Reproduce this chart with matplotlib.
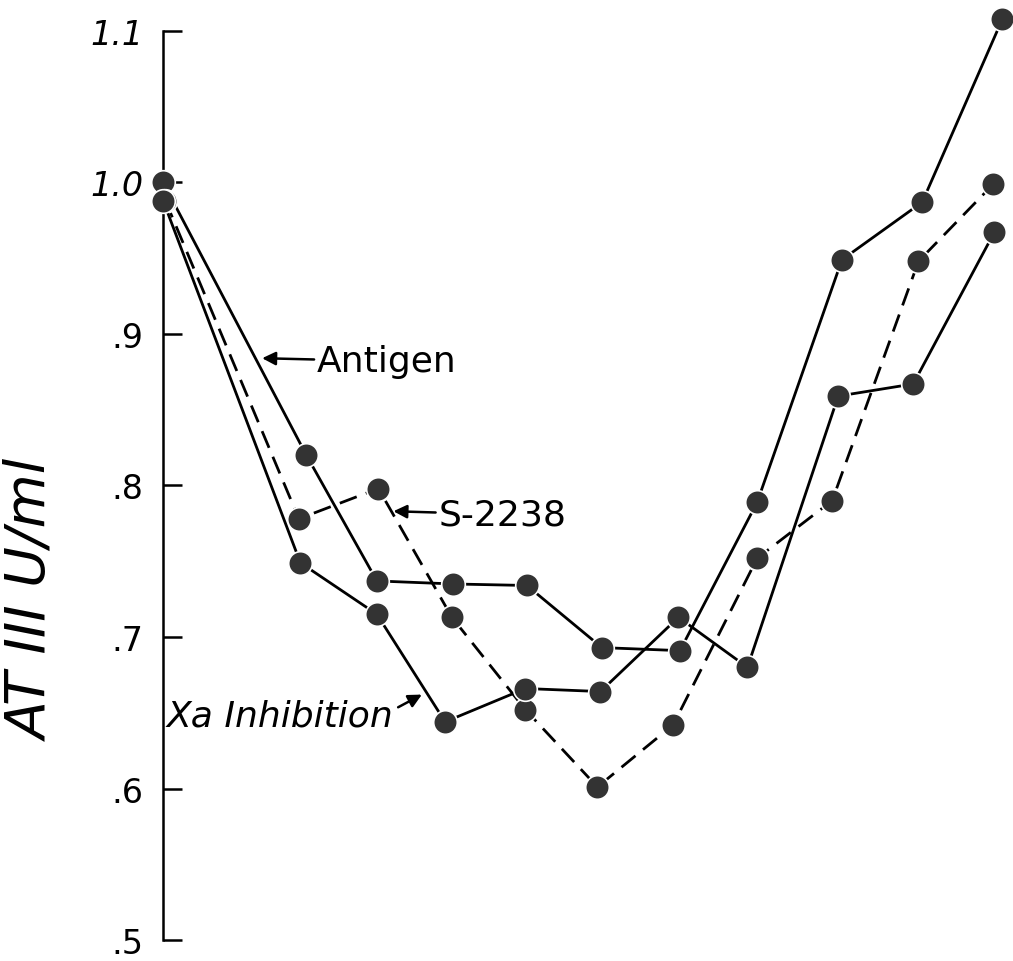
import matplotlib
matplotlib.use('Agg')
import matplotlib.pyplot as plt

# values (x: sampling position, arbitrary units)
antigen_x = [0.0, 1.91, 2.85, 3.87, 4.85, 5.85, 6.89, 7.92, 9.05, 10.12, 11.19]
antigen_y = [1.0, 0.820, 0.737, 0.735, 0.734, 0.693, 0.691, 0.789, 0.949, 0.987, 1.108]

s2238_x = [0.03, 1.81, 2.87, 3.85, 4.83, 5.79, 6.80, 7.92, 8.92, 10.07, 11.07]
s2238_y = [0.988, 0.778, 0.798, 0.713, 0.652, 0.601, 0.642, 0.752, 0.790, 0.948, 0.999]

xa_x = [0.0, 1.83, 2.85, 3.76, 4.83, 5.83, 6.87, 7.79, 9.0, 10.0, 11.08]
xa_y = [0.988, 0.749, 0.715, 0.644, 0.666, 0.664, 0.713, 0.680, 0.859, 0.867, 0.967]

y_ticks = [0.5, 0.6, 0.7, 0.8, 0.9, 1.0, 1.1]
y_ticklabels = ['.5', '.6', '.7', '.8', '.9', '1.0', '1.1']

plt.rcParams['font.family'] = ['DejaVu Sans']

fig = plt.figure(figsize=(10.13, 9.62), dpi=100)
ax = fig.add_axes([0.161, 0.0218, 0.839, 0.945])

mk = dict(marker='o', ms=17, mfc='#333333', mec='white', mew=1.2, clip_on=False)
ax.plot(antigen_x, antigen_y, color='black', lw=2.0, zorder=3, **mk)
ax.plot(s2238_x, s2238_y, color='black', lw=2.0, ls=(0, (6.5, 3.5)), zorder=3, **mk)
ax.plot(xa_x, xa_y, color='black', lw=2.0, zorder=3, **mk)

arrow = dict(arrowstyle='-|>', color='black', lw=1.8, mutation_scale=20,
             shrinkA=0, shrinkB=0)
ax.annotate('Antigen', xy=(1.32, 0.884), xytext=(2.05, 0.882),
            fontsize=26, va='center', ha='left',
            arrowprops=dict(arrow, relpos=(0, 0.55)))
ax.annotate('S-2238', xy=(3.07, 0.783), xytext=(3.67, 0.781),
            fontsize=26, va='center', ha='left',
            arrowprops=dict(arrow, relpos=(0, 0.55)))
ax.annotate('Xa Inhibition', xy=(3.45, 0.662), xytext=(0.05, 0.648),
            fontsize=26, va='center', ha='left', style='italic',
            arrowprops=dict(arrow, relpos=(1.02, 0.75)))

ax.set_xlim(0, 11.33)
ax.set_ylim(0.5, 1.1)
ax.set_xticks([])
ax.set_yticks(y_ticks)
ax.set_yticklabels(y_ticklabels)
ax.tick_params(axis='y', direction='in', length=14, width=1.8, pad=14,
               labelsize=24)
for lab in ax.get_yticklabels():
    if lab.get_text().startswith('1'):
        lab.set_style('italic')

for side in ['top', 'right', 'bottom']:
    ax.spines[side].set_visible(False)
ax.spines['left'].set_linewidth(1.8)

ax.set_ylabel('AT III U/ml', fontsize=40, style='italic', va='center')
ax.yaxis.set_label_coords(-0.154, 0.375)

fig.savefig('out.png', dpi=100)
